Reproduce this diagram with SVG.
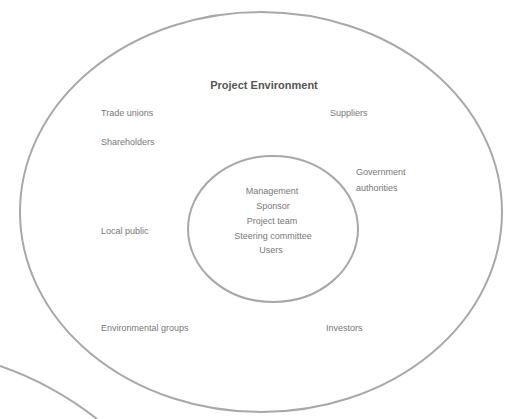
<svg xmlns="http://www.w3.org/2000/svg" width="511" height="419" viewBox="0 0 511 419">
<style>
.ring{fill:none;stroke:#a8a8a8;stroke-width:2}
.t{font-family:"Liberation Sans",Arial,sans-serif;font-size:9px;fill:#777}
.c{text-anchor:middle}
.title{font-family:"Liberation Sans",Arial,sans-serif;font-size:11px;font-weight:bold;fill:#555;text-anchor:middle}
</style>
<rect width="511" height="419" fill="#fff"/>
<g id="connectors">
<path d="M0,366 Q52,384 97,419" class="ring"/>
</g>
<g id="outer">
<ellipse cx="261" cy="212" rx="241" ry="200" class="ring"/>
<text class="title" x="264" y="89">Project Environment</text>
</g>
<g id="inner">
<ellipse cx="273" cy="229" rx="85" ry="73" class="ring"/>
<text class="t c" x="272" y="194">Management</text>
<text class="t c" x="273" y="209">Sponsor</text>
<text class="t c" x="272" y="224">Project team</text>
<text class="t c" x="273" y="239">Steering committee</text>
<text class="t c" x="271" y="253">Users</text>
</g>
<g id="n1"><text class="t" x="101" y="116">Trade unions</text></g>
<g id="n2"><text class="t" x="101" y="145">Shareholders</text></g>
<g id="n3"><text class="t" x="330" y="116">Suppliers</text></g>
<g id="n4"><text class="t" x="356" y="175">Government</text><text class="t" x="356" y="191">authorities</text></g>
<g id="n5"><text class="t" x="101" y="234">Local public</text></g>
<g id="n6"><text class="t" x="101" y="331">Environmental groups</text></g>
<g id="n7"><text class="t" x="326" y="331">Investors</text></g>
</svg>
